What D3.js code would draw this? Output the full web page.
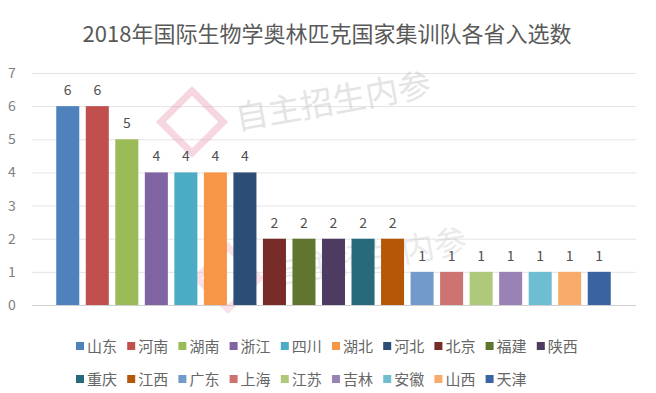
<!DOCTYPE html>
<html><head><meta charset="utf-8">
<script src="https://cdn.jsdelivr.net/npm/d3@7"></script>
<style>body{margin:0;background:#fff;} text{font-family:"Noto Sans CJK SC","Noto Sans",sans-serif;}</style>
</head><body>
<svg id="c" width="656" height="393"></svg>
<script>
const categories = ["山东","河南","湖南","浙江","四川","湖北","河北","北京","福建","陕西","重庆","江西","广东","上海","江苏","吉林","安徽","山西","天津"];
const values = [6,6,5,4,4,4,4,2,2,2,2,2,1,1,1,1,1,1,1];
const colors = ["#4f81bd","#c0504d","#9bbb59","#8064a2","#4bacc6","#f79646","#2c4d75","#772c2a","#5f7530","#4d3b62","#276a7c","#b65708","#729aca","#cd7371","#afc97a","#9983b5","#6fbdd1","#f9ab6b","#3a64a0"];
const yTicks = [0,1,2,3,4,5,6,7];
const title = "2018年国际生物学奥林匹克国家集训队各省入选数";

const svg = d3.select("#c");
const y = d3.scaleLinear().domain([0,7]).range([305,73]);
const x = d3.scaleBand().domain(categories).range([53,614]).paddingInner(0.22).paddingOuter(0.11);

svg.append("text").attr("x",327).attr("y",42).attr("text-anchor","middle")
  .attr("font-size",22).attr("fill","#595959").text(title);

// gridlines
svg.append("g").selectAll("line").data(yTicks).join("line")
  .attr("x1",32).attr("x2",636).attr("y1",d=>y(d)+0.5).attr("y2",d=>y(d)+0.5)
  .attr("stroke",d=>d===0?"#d0d0d0":"#e4e4e4").attr("stroke-width",1);

// y labels
svg.append("g").selectAll("text").data(yTicks).join("text")
  .attr("x",12).attr("y",d=>y(d)+5).attr("text-anchor","middle")
  .attr("font-size",14).attr("fill","#7f7f7f").attr("font-family","Liberation Sans, sans-serif").text(d=>d);

// watermark
const wm = svg.append("g").attr("pointer-events","none");
[[192,122,0.4],[228,278,0.3]].forEach(([cx,cy,op])=>{
  wm.append("rect").attr("x",cx-22).attr("y",cy-22).attr("width",44).attr("height",44)
    .attr("fill","none").attr("stroke","#ec9aae").attr("stroke-width",7).attr("opacity",op)
    .attr("transform",`rotate(45,${cx},${cy})`);
  wm.append("text").attr("x",cx+44).attr("y",cy+8).attr("font-size",33).attr("opacity",op)
    .attr("fill","#bdbdbd").attr("transform",`rotate(-10,${cx+44},${cy})`).text("自主招生内参");
});

// bars
svg.append("g").selectAll("rect").data(categories).join("rect")
  .attr("x",d=>x(d)).attr("width",x.bandwidth())
  .attr("y",(d,i)=>y(values[i])).attr("height",(d,i)=>y(0)-y(values[i]))
  .attr("fill",(d,i)=>colors[i]);

// labels
svg.append("g").selectAll("text").data(categories).join("text")
  .attr("x",d=>x(d)+x.bandwidth()/2).attr("y",(d,i)=>y(values[i])-11)
  .attr("text-anchor","middle").attr("font-size",14).attr("fill","#505050")
  .attr("font-family","Liberation Sans, sans-serif")
  .text((d,i)=>values[i]);

// legend
const rows = [categories.slice(0,10), categories.slice(10)];
rows.forEach((row,r)=>{
  row.forEach((name,j)=>{
    const i = r*10+j;
    const lx = 76 + j*51.2, ly = 346 + r*33;
    svg.append("rect").attr("x",lx).attr("y",ly-4).attr("width",8).attr("height",8).attr("fill",colors[i]);
    svg.append("text").attr("x",lx+11).attr("y",ly+5.5).attr("font-size",15).attr("fill","#666").text(name);
  });
});
</script>
</body></html>
